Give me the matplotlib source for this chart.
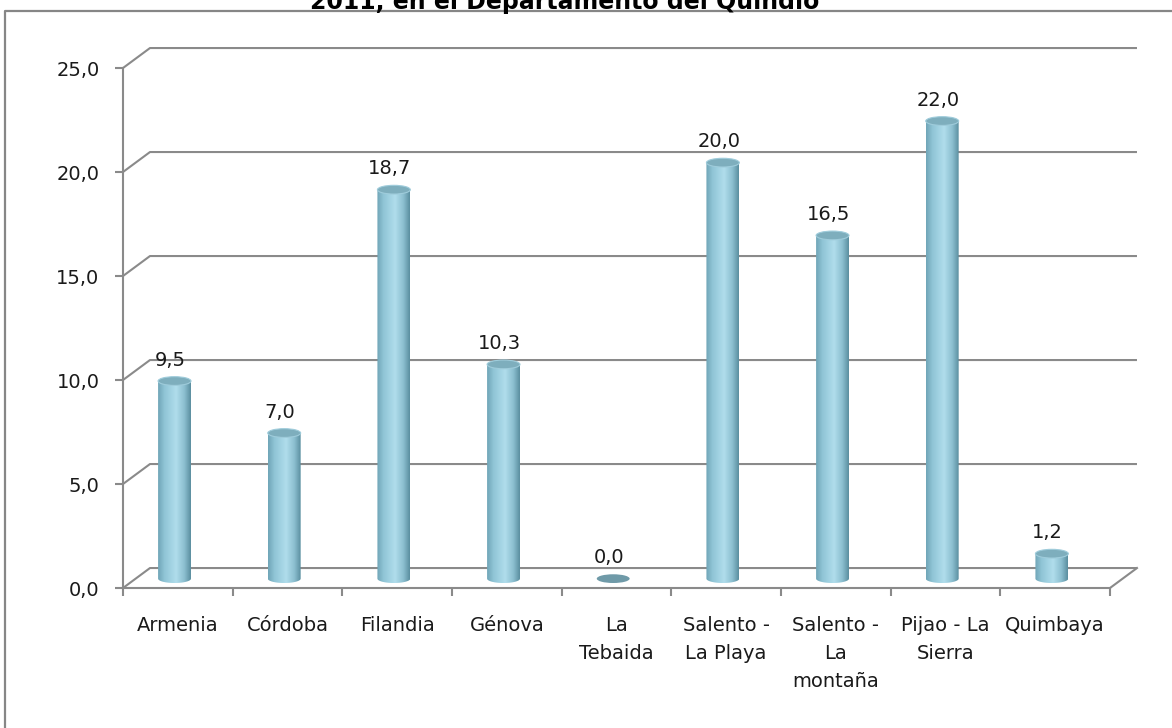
import numpy as np
import matplotlib
matplotlib.use("Agg")
import matplotlib.pyplot as plt
from matplotlib.path import Path
from matplotlib.patches import PathPatch, Ellipse
from matplotlib.colors import LinearSegmentedColormap
from matplotlib.lines import Line2D

# datos
municipios = ["Armenia", "Córdoba", "Filandia", "Génova", "La\nTebaida",
              "Salento -\nLa Playa", "Salento -\nLa\nmontaña", "Pijao - La\nSierra",
              "Quimbaya"]
valores = [9.5, 7.0, 18.7, 10.3, 0.0, 20.0, 16.5, 22.0, 1.2]
yticks = [0, 5, 10, 15, 20, 25]
titulo = "2011, en el Departamento del Quindío"

plt.rcParams['font.family'] = ['DejaVu Sans']
gris = '#8a8a8a'
fs = 14

W, H = 1172, 728
fig = plt.figure(figsize=(W / 100, H / 100), dpi=100)
ax = fig.add_axes([123 / W, (H - 588) / H, 987 / W, 520 / H])
n = len(valores)
ax.set_xlim(-0.5, n - 0.5)
ax.set_ylim(0, 25)

# profundidad 3D (en unidades de datos)
dx, dy = 0.246, 0.96

# pared de fondo / lineas de division
for v in yticks:
    ax.plot([-0.5, -0.5 + dx, n - 0.5 + dx], [v, v + dy, v + dy],
            color=gris, lw=1.5, clip_on=False, zorder=1, solid_capstyle='butt')
ax.plot([n - 0.5, n - 0.5 + dx], [0, dy], color=gris, lw=1.5, clip_on=False, zorder=1)

for s in ['top', 'right']:
    ax.spines[s].set_visible(False)
for s in ['left', 'bottom']:
    ax.spines[s].set_color(gris)
    ax.spines[s].set_linewidth(1.5)

ax.set_yticks(yticks)
ax.set_yticklabels([f"{v:.1f}".replace('.', ',') for v in yticks], fontsize=fs)
ax.tick_params(axis='y', length=6, width=1.5, color=gris, pad=11, labelcolor='#1a1a1a')
ax.set_xticks(range(n))
ax.set_xticklabels(municipios, fontsize=fs, linespacing=1.6)
ax.set_xticks(np.arange(-0.5, n), minor=True)
ax.tick_params(axis='x', which='major', length=0, pad=20, labelcolor='#1a1a1a')
ax.tick_params(axis='x', which='minor', length=5.5, width=1.5, color=gris)

# cilindros
cmap = LinearSegmentedColormap.from_list('cil', [
    (0.0, '#6fa5b7'), (0.2, '#90c5d6'), (0.55, '#b0ddec'),
    (0.8, '#8cbfd0'), (1.0, '#5a8e9f')])
grad = np.linspace(0, 1, 256).reshape(1, -1)
w = 0.3
eh = 0.42
base = 0.45
theta = np.linspace(np.pi, 2 * np.pi, 60)

for i, v in enumerate(valores):
    cx = i - 0.03
    top = base + v
    if v > 0:
        ex = cx + (w / 2) * np.cos(theta)
        ey = base + (eh / 2) * np.sin(theta)
        xs = np.concatenate([[cx - w / 2], ex, [cx + w / 2, cx - w / 2]])
        ys = np.concatenate([[top], ey, [top, top]])
        path = Path(np.column_stack([xs, ys]))
        patch = PathPatch(path, facecolor='none', edgecolor='none')
        ax.add_patch(patch)
        im = ax.imshow(grad, extent=[cx - w / 2, cx + w / 2, base - eh / 2, top],
                       aspect='auto', cmap=cmap, zorder=3, interpolation='bilinear')
        im.set_clip_path(patch)
        ax.add_patch(Ellipse((cx, top), w, eh, facecolor='#7eaebd',
                             edgecolor='#9fccdb', lw=0.8, zorder=4))
    else:
        ax.add_patch(Ellipse((cx, top), w, eh, facecolor='#6f9aa8',
                             edgecolor='none', zorder=4))
    ax.annotate(f"{v:.1f}".replace('.', ','), (cx, top + eh / 2),
                xytext=(-3, 5), textcoords='offset points',
                ha='center', va='bottom', fontsize=fs, color='#1a1a1a')

ax.set_xlim(-0.5, n - 0.5)
ax.set_ylim(0, 25)

# titulo (cortado arriba, como en el original) y marco
fig.text(565 / W, 1 - 9 / H, titulo, ha='center', va='baseline',
         fontsize=17, fontweight='bold', color='#000000')
fig.add_artist(Line2D([5 / W, 5 / W, 1.0], [0, 1 - 11 / H, 1 - 11 / H],
                      transform=fig.transFigure, color='#868686', lw=1.6))

fig.savefig('out.png', dpi=100, facecolor='white')
